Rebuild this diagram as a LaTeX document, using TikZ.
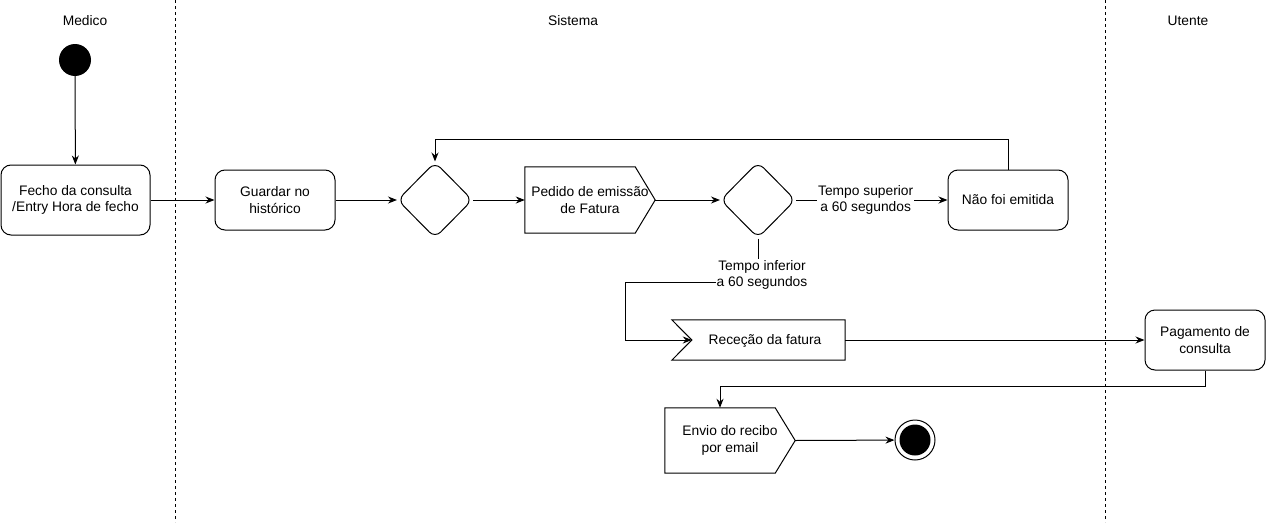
\documentclass[tikz,border=0pt]{standalone}
\usepackage{fontspec}
\setmainfont{Liberation Sans}
\usetikzlibrary{arrows.meta,shapes.geometric,calc}
\begin{document}
\begin{tikzpicture}[x=1pt,y=-1pt,
  every node/.style={font=\fontsize{13.8}{16.5}\selectfont},
  act/.style={draw, rounded corners=10pt, align=center, inner sep=0pt, line width=1pt},
  dec/.style={draw, diamond, rounded corners=8pt, minimum width=75pt, minimum height=76pt, inner sep=0pt, line width=1pt},
  plainbox/.style={draw=none, align=center, inner sep=0pt},
  flow/.style={-{Stealth[length=9pt,width=7pt]}, line width=1pt},
  lane/.style={dash pattern=on 3pt off 3pt, line width=0.8pt},
  lbl/.style={fill=white, align=center, inner sep=1pt}
]
\useasboundingbox[fill=white] (0,0) rectangle (1266,522);

% lanes
\node (lmed) at (85,21) {Medico};
\node (lsis) at (573,21) {Sistema};
\node (lute) at (1188,21) {Utente};
\coordinate (lane1t) at (175,0);
\coordinate (lane1b) at (175,522);
\coordinate (lane2t) at (1105,0);
\coordinate (lane2b) at (1105,522);
\draw[lane] (lane1t) -- (lane1b);
\draw[lane] (lane2t) -- (lane2b);

% nodes
\node[fill, circle, minimum size=32pt, inner sep=0pt] (start) at (75,60) {};
\node[act, minimum width=149pt, minimum height=70pt] (fecho) at (75.5,200) {Fecho da consulta\\/Entry Hora de fecho};
\node[act, minimum width=120pt, minimum height=60pt] (guardar) at (275,200) {Guardar no\\histórico};
\node[dec] (d1) at (435,200) {};
\node[plainbox, minimum width=130pt, minimum height=66pt] (pedido) at (590,200) {Pedido de emissão\\de Fatura};
\draw[line width=1pt] (pedido.north west) -- ([xshift=-20pt]pedido.north east) -- (pedido.east) -- ([xshift=-20pt]pedido.south east) -- (pedido.south west) -- cycle;
\node[dec] (d2) at (758,200) {};
\node[act, minimum width=120pt, minimum height=60pt] (nao) at (1008,200) {Não foi emitida};
\node[plainbox, minimum width=173pt, minimum height=40pt] (rec) at (758.5,340) {};
\draw[line width=1pt] (rec.north west) -- (rec.north east) -- (rec.south east) -- (rec.south west) -- ([xshift=20pt]rec.west) -- cycle;
\node (rectxt) at (765,341) {Receção da fatura};
\node[act, minimum width=120pt, minimum height=60pt] (pag) at (1205,340) {Pagamento de\\consulta};
\node[plainbox, minimum width=130pt, minimum height=65pt] (envio) at (730,440.5) {Envio do recibo\\por email};
\draw[line width=1pt] (envio.north west) -- ([xshift=-20pt]envio.north east) -- (envio.east) -- ([xshift=-20pt]envio.south east) -- (envio.south west) -- cycle;
\node[circle, draw, minimum size=40pt, inner sep=0pt, line width=1pt] (end) at (915,440) {};
\fill (end.center) circle (15.5pt);

% connectors
\draw[flow] (start) -- (fecho);
\draw[flow] (fecho) -- (guardar);
\draw[flow] (guardar) -- (d1);
\draw[flow] (d1) -- (pedido);
\draw[flow] (pedido.east) -- (d2);
\draw[flow] (d2) -- node[lbl, pos=0.46] (lsup) {Tempo superior\\a 60 segundos} (nao);
\draw[flow] (nao.north) -- ++(0,-30) -| (d1.north);
\coordinate (c1) at (625,282);
\draw[flow] (d2.south) |- (c1) |- ([xshift=20pt]rec.west);
\node[lbl] (linf) at (762,275) {Tempo inferior\\a 60 segundos};
\draw[flow] (rec.east) -- (pag.west);
\draw[flow] (pag.south) -- ++(0,16) -| ([xshift=-10pt]envio.north);
\draw[flow] (envio.east) -- (end);
\end{tikzpicture}
\end{document}
